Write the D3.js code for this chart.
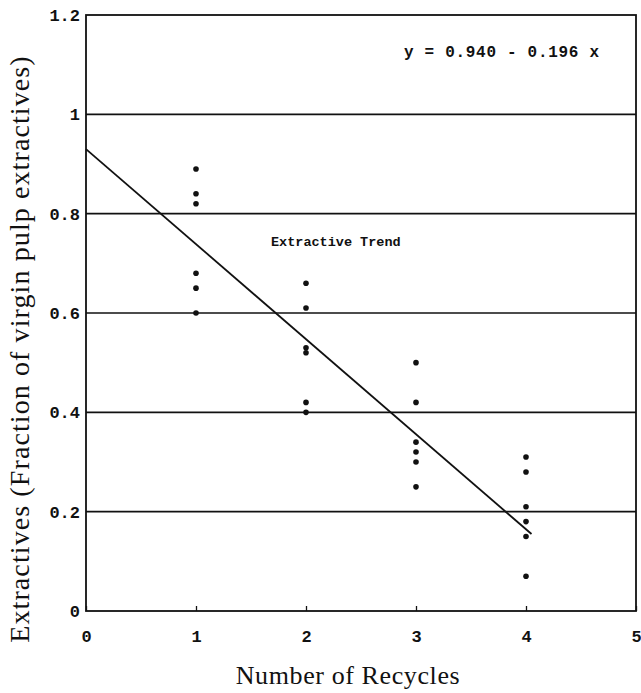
<!DOCTYPE html>
<html lang="en">

<head>
    <meta charset="UTF-8">
    <title>Extractives vs Number of Recycles</title>
    <script src="https://d3js.org/d3.v7.min.js"></script>
    <style>
        body { margin: 0; background: #fff; }
        .tick-label { font-family: "Liberation Mono", monospace; font-weight: bold; font-size: 17px; fill: #111; }
        .axis-title { font-family: "Liberation Serif", serif; fill: #111; }
    </style>
</head>

<body>
    <div id="chart"></div>

    <script>
        // data
        const recycles = [1, 2, 3, 4];
        const extractives1 = [0.89, 0.84, 0.82, 0.68, 0.65, 0.60];
        const extractives2 = [0.66, 0.61, 0.53, 0.52, 0.42, 0.40];
        const extractives3 = [0.50, 0.42, 0.34, 0.32, 0.30, 0.25];
        const extractives4 = [0.31, 0.28, 0.21, 0.18, 0.15, 0.07];
        const trendX = [0, 4.05];
        const trendY = [0.93, 0.155];
        const xTicks = [0, 1, 2, 3, 4, 5];
        const yTicks = [0, 0.2, 0.4, 0.6, 0.8, 1, 1.2];
        const gridValues = [0.2, 0.4, 0.6, 0.8, 1];

        const width = 641, height = 693;
        const margin = { left: 86, right: 5, top: 15, bottom: 82 };

        const svg = d3.select("#chart")
            .append("svg")
            .attr("width", width)
            .attr("height", height);

        const x = d3.scaleLinear().domain([0, 5]).range([margin.left, width - margin.right]);
        const y = d3.scaleLinear().domain([0, 1.2]).range([height - margin.bottom, margin.top]);

        // horizontal grid lines
        svg.selectAll(".grid")
            .data(gridValues)
            .enter()
            .append("line")
            .attr("x1", x(0))
            .attr("x2", x(5))
            .attr("y1", d => y(d))
            .attr("y2", d => y(d))
            .attr("stroke", "#111")
            .attr("stroke-width", 1.6);

        // plot frame
        svg.append("rect")
            .attr("x", x(0))
            .attr("y", y(1.2))
            .attr("width", x(5) - x(0))
            .attr("height", y(0) - y(1.2))
            .attr("fill", "none")
            .attr("stroke", "#111")
            .attr("stroke-width", 1.8);

        // axes (ticks inward, labels drawn by d3.axis)
        const xAxis = svg.append("g")
            .attr("transform", `translate(0,${y(0)})`)
            .call(d3.axisBottom(x).tickValues(xTicks).tickSize(-5).tickPadding(19).tickFormat(d3.format("d")));
        const yAxis = svg.append("g")
            .attr("transform", `translate(${x(0)},0)`)
            .call(d3.axisLeft(y).tickValues(yTicks).tickSize(0).tickPadding(6).tickFormat(d => d === 0 || d === 1 ? d : d3.format(".1f")(d)));

        [xAxis, yAxis].forEach(g => {
            g.select(".domain").remove();
            g.selectAll(".tick line").attr("stroke", "#111").attr("stroke-width", 1.3);
            g.selectAll(".tick text").attr("class", "tick-label");
        });

        // scatter points
        const series = [extractives1, extractives2, extractives3, extractives4];
        const points = [];
        series.forEach((vals, i) => vals.forEach(v => points.push({ x: recycles[i], y: v })));

        svg.selectAll(".pt")
            .data(points)
            .enter()
            .append("circle")
            .attr("cx", d => x(d.x))
            .attr("cy", d => y(d.y))
            .attr("r", 2.8)
            .attr("fill", "#111");

        // trend line
        svg.append("line")
            .attr("x1", x(trendX[0]))
            .attr("y1", y(trendY[0]))
            .attr("x2", x(trendX[1]))
            .attr("y2", y(trendY[1]))
            .attr("stroke", "#111")
            .attr("stroke-width", 1.8);

        // annotations
        svg.append("text")
            .attr("class", "tick-label")
            .attr("x", 404)
            .attr("y", 57)
            .style("font-size", "16px")
            .style("letter-spacing", "0.7px")
            .text("y = 0.940 - 0.196 x");

        svg.append("text")
            .attr("class", "tick-label")
            .attr("x", 271)
            .attr("y", 246)
            .style("font-size", "13.5px")
            .text("Extractive Trend");

        // axis titles
        svg.append("text")
            .attr("class", "axis-title")
            .attr("x", 348)
            .attr("y", 684)
            .attr("text-anchor", "middle")
            .style("font-size", "26px")
            .style("letter-spacing", "0.6px")
            .text("Number of Recycles");

        svg.append("text")
            .attr("class", "axis-title")
            .attr("transform", "translate(29,349) rotate(-90)")
            .attr("text-anchor", "middle")
            .style("font-size", "28px")
            .style("letter-spacing", "1.1px")
            .text("Extractives (Fraction of virgin pulp extractives)");
    </script>
</body>

</html>
